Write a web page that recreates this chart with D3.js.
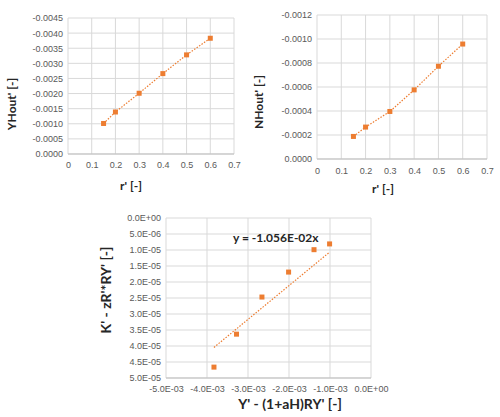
<!DOCTYPE html>
<html>
<head>
<meta charset="utf-8">
<script src="https://cdn.jsdelivr.net/npm/d3@7"></script>
<style>
  body { margin: 0; background: #fff; }
  svg { font-family: Lato, "Open Sans", sans-serif; }
  .tick text { fill: #595959; font-size: 9px; }
  .grid line { stroke: #d9d9d9; stroke-width: 1; }
  .axis-title { font-weight: bold; fill: #262626; }
</style>
</head>
<body>
<svg id="chart" width="500" height="417"></svg>
<script>
// --- data ---
const rPrime = [0.15, 0.2, 0.3, 0.4, 0.5, 0.6];
const yHout = [-0.00101, -0.00139, -0.00201, -0.00266, -0.00328, -0.00383];
const nHout = [-0.000188, -0.000266, -0.000396, -0.000576, -0.000773, -0.000958];
const kPrime = [8.1e-6, 9.9e-6, 1.69e-5, 2.47e-5, 3.63e-5, 4.66e-5];
const trendSlope = -1.056e-2;
const trendLabel = 'y = -1.056E-02x';

const rTicks = [0, 0.1, 0.2, 0.3, 0.4, 0.5, 0.6, 0.7];
const yHoutTicks = [0, -0.0005, -0.001, -0.0015, -0.002, -0.0025, -0.003, -0.0035, -0.004, -0.0045];
const nHoutTicks = [0, -0.0002, -0.0004, -0.0006, -0.0008, -0.001, -0.0012];
const xBottomTicks = [-5e-3, -4e-3, -3e-3, -2e-3, -1e-3, 0];
const yBottomTicks = [0, 5e-6, 1e-5, 1.5e-5, 2e-5, 2.5e-5, 3e-5, 3.5e-5, 4e-5, 4.5e-5, 5e-5];

const orange = '#ed7d31';
const svg = d3.select('#chart');

// "0.0E+00" style labels like Excel
function sci(v) {
    if (v === 0) return '0.0E+00';
    const exp = Math.floor(Math.log10(Math.abs(v)) + 1e-9);
    const mant = v / Math.pow(10, exp);
    const es = (exp < 0 ? '-' : '+') + String(Math.abs(exp)).padStart(2, '0');
    return mant.toFixed(1) + 'E' + es;
}
const fixed = d => (d === 0 ? 0 : d).toFixed(4);
const plain = d => d === 0 ? '0' : String(d);

// generic scatter panel
function panel(cfg) {
    const x = d3.scaleLinear().domain(cfg.xDomain).range([cfg.left, cfg.right]);
    const y = d3.scaleLinear().domain(cfg.yDomain).range([cfg.bottom, cfg.top]);
    const g = svg.append('g');

    // grid
    g.append('g').attr('class', 'grid').selectAll('line')
        .data(cfg.yTicks).join('line')
        .attr('x1', cfg.left).attr('x2', cfg.right)
        .attr('y1', d => y(d)).attr('y2', d => y(d));
    g.append('g').attr('class', 'grid').selectAll('line')
        .data(cfg.xTicks).join('line')
        .attr('y1', cfg.top).attr('y2', cfg.bottom)
        .attr('x1', d => x(d)).attr('x2', d => x(d));

    // axes (labels only, Excel style)
    const xa = g.append('g')
        .attr('transform', `translate(0,${cfg.xLabelY})`)
        .call(d3.axisBottom(x).tickValues(cfg.xTicks).tickFormat(cfg.xFmt).tickSize(0).tickPadding(0));
    xa.select('.domain').remove();
    const ya = g.append('g')
        .attr('transform', `translate(${cfg.left - 5},0)`)
        .call(d3.axisLeft(y).tickValues(cfg.yTicks).tickFormat(cfg.yFmt).tickSize(0).tickPadding(0));
    ya.select('.domain').remove();

    // bottom axis line
    g.append('line')
        .attr('x1', cfg.left).attr('x2', cfg.right)
        .attr('y1', cfg.bottom).attr('y2', cfg.bottom)
        .attr('stroke', '#bfbfbf');

    // dotted line / trend
    g.append('path')
        .datum(cfg.line)
        .attr('fill', 'none')
        .attr('stroke', orange)
        .attr('stroke-width', 1.2)
        .attr('stroke-dasharray', '1.5,1.5')
        .attr('d', d3.line().x(d => x(d[0])).y(d => y(d[1])));

    // markers
    g.selectAll('rect.pt').data(cfg.points).join('rect')
        .attr('class', 'pt')
        .attr('x', d => x(d[0]) - 2.5).attr('y', d => y(d[1]) - 2.5)
        .attr('width', 5).attr('height', 5)
        .attr('fill', orange);

    // titles
    g.append('text').attr('class', 'axis-title')
        .attr('x', cfg.xTitleX).attr('y', cfg.xTitleY)
        .attr('text-anchor', 'middle').attr('font-size', cfg.titleSize)
        .text(cfg.xTitle);
    g.append('text').attr('class', 'axis-title')
        .attr('transform', `translate(${cfg.yTitleX},${cfg.yTitleCY}) rotate(-90)`)
        .attr('text-anchor', 'middle').attr('font-size', cfg.titleSize)
        .text(cfg.yTitle);
    return { x, y, g };
}

// top left
panel({
    left: 68, right: 234, top: 18, bottom: 154,
    xDomain: [0, 0.7], yDomain: [0, -0.0045],
    xTicks: rTicks, yTicks: yHoutTicks,
    xFmt: plain, yFmt: fixed,
    xLabelY: 162, xTitleX: 131, xTitleY: 190, yTitleX: 16, yTitleCY: 104,
    xTitle: "r' [-]", yTitle: "YHout' [-]", titleSize: 12,
    points: rPrime.map((r, i) => [r, yHout[i]]),
    line: rPrime.map((r, i) => [r, yHout[i]])
});

// top right
panel({
    left: 317, right: 487, top: 15, bottom: 159,
    xDomain: [0, 0.7], yDomain: [0, -0.0012],
    xTicks: rTicks, yTicks: nHoutTicks,
    xFmt: plain, yFmt: fixed,
    xLabelY: 168, xTitleX: 383, xTitleY: 193, yTitleX: 263, yTitleCY: 102,
    xTitle: "r' [-]", yTitle: "NHout'  [-]", titleSize: 12,
    points: rPrime.map((r, i) => [r, nHout[i]]),
    line: rPrime.map((r, i) => [r, nHout[i]])
});

// bottom
const xEnds = d3.extent(yHout);
const bp = panel({
    left: 166, right: 371, top: 218, bottom: 378,
    xDomain: [-5e-3, 0], yDomain: [5e-5, 0],
    xTicks: xBottomTicks, yTicks: yBottomTicks,
    xFmt: sci, yFmt: sci,
    xLabelY: 386, xTitleX: 290, xTitleY: 409, yTitleX: 111, yTitleCY: 290,
    xTitle: "Y' - (1+aH)RY'  [-]", yTitle: "K' - zR'*RY' [-]", titleSize: 14,
    points: yHout.map((v, i) => [v, kPrime[i]]),
    line: xEnds.map(v => [v, trendSlope * v])
});
bp.g.append('text')
    .attr('x', 233).attr('y', 242)
    .attr('font-size', 12).attr('font-weight', 'bold').attr('fill', '#262626')
    .text(trendLabel);
</script>
</body>
</html>
